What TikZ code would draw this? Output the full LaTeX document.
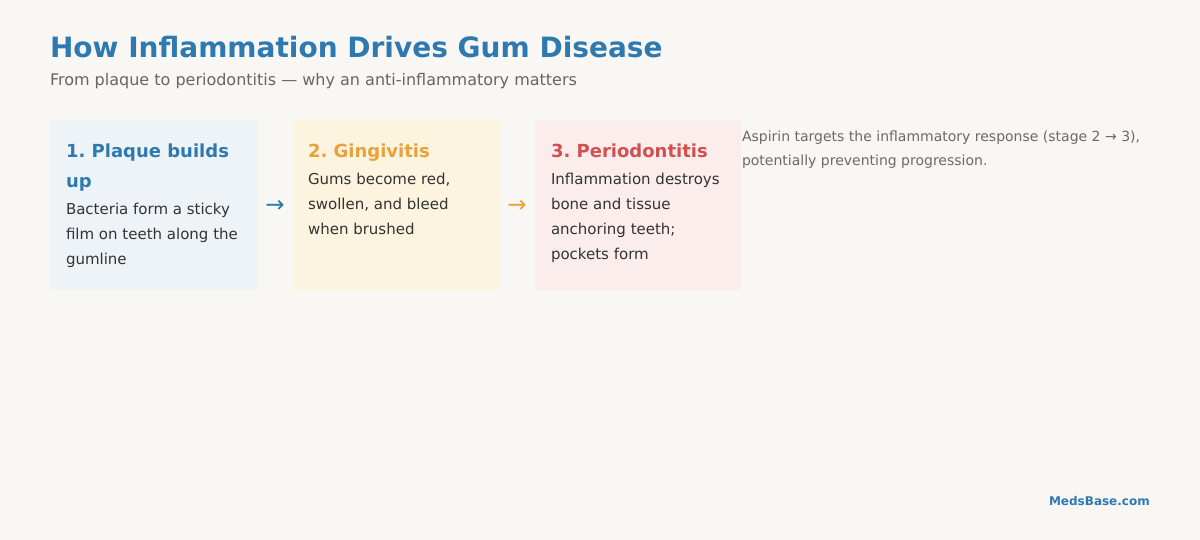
\documentclass[tikz,border=0pt]{standalone}
\usepackage{fontspec}
\setmainfont{DejaVu Sans}
\frenchspacing
\definecolor{bgc}{HTML}{F8F7F4}
\definecolor{titleblue}{HTML}{2E7AB0}
\definecolor{subgray}{HTML}{666666}
\definecolor{bodyc}{HTML}{333333}
\definecolor{sidegray}{HTML}{6A6A6A}
\definecolor{fillblue}{HTML}{EEF3F8}
\definecolor{fillyellow}{HTML}{FCF4DE}
\definecolor{fillpink}{HTML}{FCEDED}
\definecolor{orangec}{HTML}{E9A23B}
\definecolor{redc}{HTML}{D1504F}
\tikzset{
  stagebox/.style={draw=none, rounded corners=2pt},
  txt/.style={anchor=base west, inner sep=0pt, outer sep=0pt},
  stitle/.style={txt, font=\fontsize{18}{22}\selectfont\bfseries},
  sbody/.style={txt, font=\fontsize{15}{18}\selectfont, text=bodyc},
  sidetxt/.style={txt, font=\fontsize{14}{17}\selectfont, text=sidegray},
  arrowglyph/.style={anchor=base, inner sep=0pt, font=\fontsize{23}{25}\selectfont},
}
\begin{document}
\begin{tikzpicture}[x=1pt,y=-1pt]
\fill[bgc] (0,0) rectangle (1200,540);
\useasboundingbox (0,0) rectangle (1200,540);
% title
\node[txt, font=\fontsize{28}{32}\selectfont\bfseries, text=titleblue] (title) at (50,58) {How Inflammation Drives Gum Disease};
\node[txt, font=\fontsize{16}{20}\selectfont, text=subgray] (subtitle) at (50,86) {From plaque to periodontitis — why an anti-inflammatory matters};
% boxes
\fill[fillblue, stagebox] (50,120) rectangle (258,290);
\fill[fillyellow, stagebox] (293,120) rectangle (500,290);
\fill[fillpink, stagebox] (535,120) rectangle (741,290);
% stage 1
\node[stitle, text=titleblue] (t1a) at (66,158) {1. Plaque builds};
\node[stitle, text=titleblue] (t1b) at (66,188) {up};
\node[sbody] (b1a) at (66,215) {Bacteria form a sticky};
\node[sbody] (b1b) at (66,240) {film on teeth along the};
\node[sbody] (b1c) at (66,265) {gumline};
% stage 2
\node[stitle, text=orangec] (t2) at (308,158) {2. Gingivitis};
\node[sbody] (b2a) at (308,185) {Gums become red,};
\node[sbody] (b2b) at (308,210) {swollen, and bleed};
\node[sbody] (b2c) at (308,235) {when brushed};
% stage 3
\node[stitle, text=redc] (t3) at (551,158) {3. Periodontitis};
\node[sbody] (b3a) at (551,185) {Inflammation destroys};
\node[sbody] (b3b) at (551,210) {bone and tissue};
\node[sbody] (b3c) at (551,235) {anchoring teeth;};
\node[sbody] (b3d) at (551,260) {pockets form};
% arrows
\node[arrowglyph, text=titleblue] (ar1) at (275,213) {→};
\node[arrowglyph, text=orangec] (ar2) at (517,213) {→};
% side note
\node[sidetxt] (s1) at (742,142) {Aspirin targets the inflammatory response (stage 2 → 3),};
\node[sidetxt] (s2) at (742,166) {potentially preventing progression.};
% footer
\node[anchor=base east, inner sep=0pt, font=\fontsize{12}{14}\selectfont\bfseries, text=titleblue] (foot) at (1150,505) {MedsBase.com};
\end{tikzpicture}
\end{document}
